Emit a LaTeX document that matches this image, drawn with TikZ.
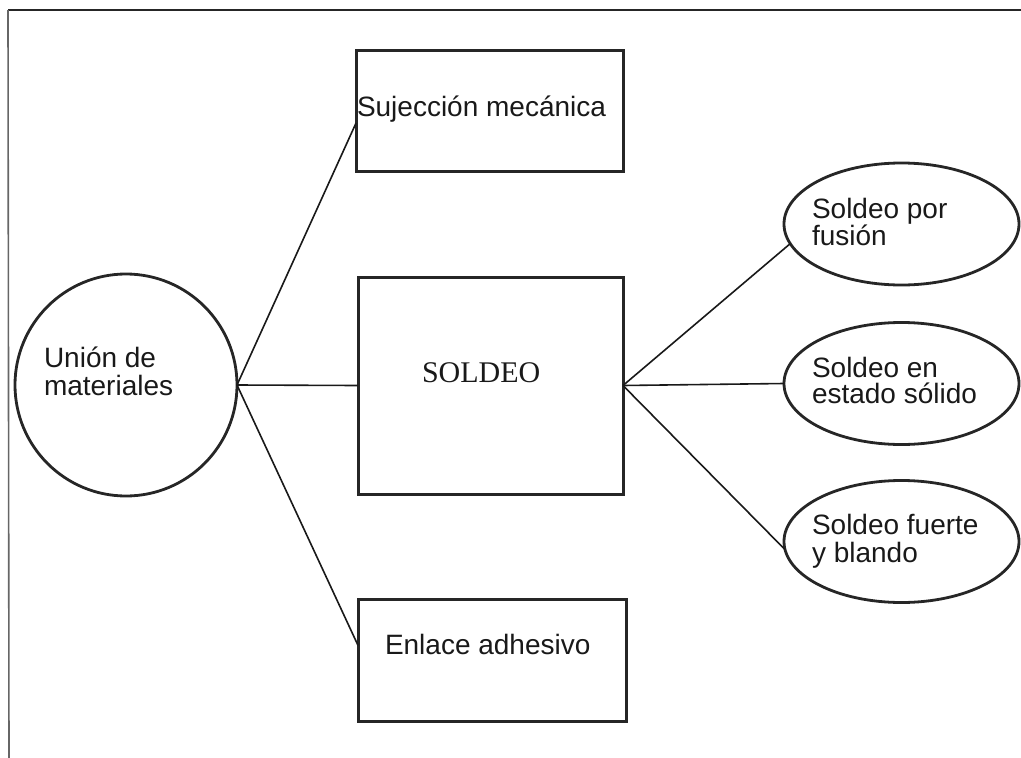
\documentclass[tikz,border=0pt]{standalone}
\usepackage{fontspec}
\usetikzlibrary{shapes.geometric,calc}
\newfontfamily\labelfont{Liberation Sans}
\newfontfamily\titlefont{Liberation Serif}
\begin{document}
\begin{tikzpicture}[x=1pt,y=-1pt,
  frameline/.style={line width=2.2pt, black!85},
  sideline/.style={line width=1.6pt, black!60},
  boxnode/.style={draw, rectangle, line width=3pt, black!85, inner sep=0pt, outer sep=0pt,
                  minimum width=267pt, minimum height=121pt},
  ringnode/.style={draw, circle, line width=2.8pt, black!85, inner sep=0pt, outer sep=0pt,
                   minimum size=222pt},
  ovalnode/.style={draw, ellipse, line width=2.8pt, black!85, inner sep=0pt, outer sep=0pt,
                   minimum width=235pt, minimum height=122pt},
  conn/.style={line width=1.6pt, black!90},
  lbl/.style={anchor=base west, inner sep=0pt, outer sep=0pt, text=black!90,
              font=\labelfont\fontsize{28}{28}\selectfont},
  ttl/.style={anchor=base west, inner sep=0pt, outer sep=0pt, text=black!90,
              font=\titlefont\fontsize{30}{30}\selectfont}]
\useasboundingbox (0,0) rectangle (1021,758);

% page frame: top rule and left rule
\coordinate (ftl) at (8,10);
\coordinate (ftr) at (1021,10);
\coordinate (fbl) at (9,758);
\draw[frameline] (ftl) -- (ftr);
\draw[sideline] (ftl) -- (fbl);

% central hub
\node[ringnode] (union) at (126,385) {};

% first-level boxes
\node[boxnode] (suj) at (489.5,111) {};
\node[boxnode, minimum width=265pt, minimum height=217pt] (sold) at (490.5,385.5) {};
\node[boxnode, minimum width=268pt, minimum height=122pt] (enl) at (492,660) {};

% welding sub-types
\node[ovalnode] (fus) at (901.5,224) {};
\node[ovalnode] (sol) at (901.5,383.5) {};
\node[ovalnode] (fue) at (901.5,541.5) {};

% connectors
\draw[conn] (union.east) -- ($(suj.south west)!0.4!(suj.north west)$);
\draw[conn] (union.east) -- (sold.west);
\draw[conn] (union.east) -- ($(enl.north west)!0.38!(enl.south west)$);
\draw[conn] (sold.east) -- (fus.190);
\draw[conn] (sold.east) -- (sol.west);
\draw[conn] (sold.east) -- (fue.184);

% texts
\node[lbl] (t1a) at (44,367) {Unión de};
\node[lbl] (t1b) at (44,395) {materiales};
\node[lbl] (t2) at (357,116) {Sujección mecánica};
\node[ttl] (t3) at (422,382) {SOLDEO};
\node[lbl] (t4) at (385,654) {Enlace adhesivo};
\node[lbl] (t5a) at (812,218) {Soldeo por};
\node[lbl] (t5b) at (812,245) {fusión};
\node[lbl] (t6a) at (812,377) {Soldeo en};
\node[lbl] (t6b) at (812,403) {estado sólido};
\node[lbl] (t7a) at (812,534) {Soldeo fuerte};
\node[lbl] (t7b) at (812,562) {y blando};
\end{tikzpicture}
\end{document}
